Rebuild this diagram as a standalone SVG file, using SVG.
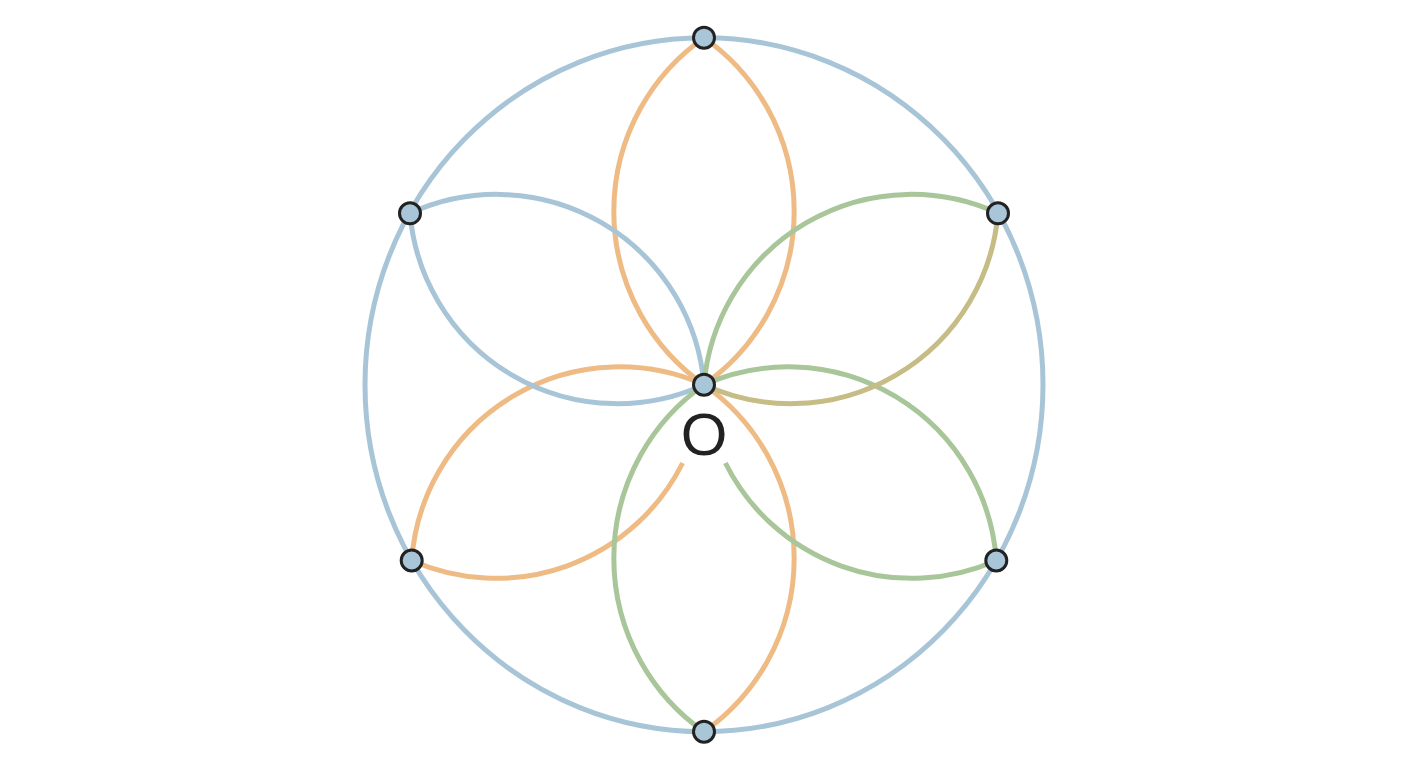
<svg xmlns="http://www.w3.org/2000/svg" width="1408" height="768" viewBox="0 0 1408 768">
<style>
.ln{fill:none;stroke-width:5}
.b{stroke:#a8c5d8}
.o{stroke:#efbb85}
.g{stroke:#a8c699}
.k{stroke:#c6bc86}
.node{fill:#a8c6d8;stroke:#222;stroke-width:3}
.lbl{font-family:"Liberation Sans",Arial,sans-serif;font-size:60px;fill:#222;text-anchor:middle}
</style>
<rect width="1408" height="768" fill="#fff"/>
<g id="connectors">
<ellipse class="ln b" cx="704" cy="384.7" rx="339" ry="347"/>
<path class="ln o" d="M704,384.7 A212,212 0 0 1 704,37.7"/>
<path class="ln o" d="M704,384.7 A212,212 0 0 0 704,37.7"/>
<path class="ln o" d="M704,384.7 A212,212 0 0 1 704,731.7"/>
<path class="ln o" d="M704,384.7 A208.4,208.4 0 0 0 411.7,560.5"/>
<path class="ln o" d="M682.6,463 A208.4,208.4 0 0 1 411.7,560.5"/>
<path class="ln b" d="M704,384.7 A208,208 0 0 1 410,213.3"/>
<path class="ln b" d="M704,384.7 A208,208 0 0 0 410,213.3"/>
<path class="ln g" d="M704,384.7 A208,208 0 0 1 998,213.3"/>
<path class="ln g" d="M704,384.7 A208.4,208.4 0 0 1 996.3,560.5"/>
<path class="ln g" d="M725.4,463 A208.4,208.4 0 0 0 996.3,560.5"/>
<path class="ln g" d="M704,384.7 A212,212 0 0 0 704,731.7"/>
<path class="ln k" d="M704,384.7 A208,208 0 0 0 998,213.3"/>
</g>
<g id="node-O"><circle class="node" cx="704" cy="384.7" r="10.5"/><text class="lbl" x="704" y="455">O</text></g>
<g id="node-top"><circle class="node" cx="704" cy="37.7" r="10.5"/></g>
<g id="node-bottom"><circle class="node" cx="704" cy="731.7" r="10.5"/></g>
<g id="node-upper-left"><circle class="node" cx="410" cy="213.3" r="10.5"/></g>
<g id="node-upper-right"><circle class="node" cx="998" cy="213.3" r="10.5"/></g>
<g id="node-lower-left"><circle class="node" cx="411.7" cy="560.5" r="10.5"/></g>
<g id="node-lower-right"><circle class="node" cx="996.3" cy="560.5" r="10.5"/></g>
</svg>
